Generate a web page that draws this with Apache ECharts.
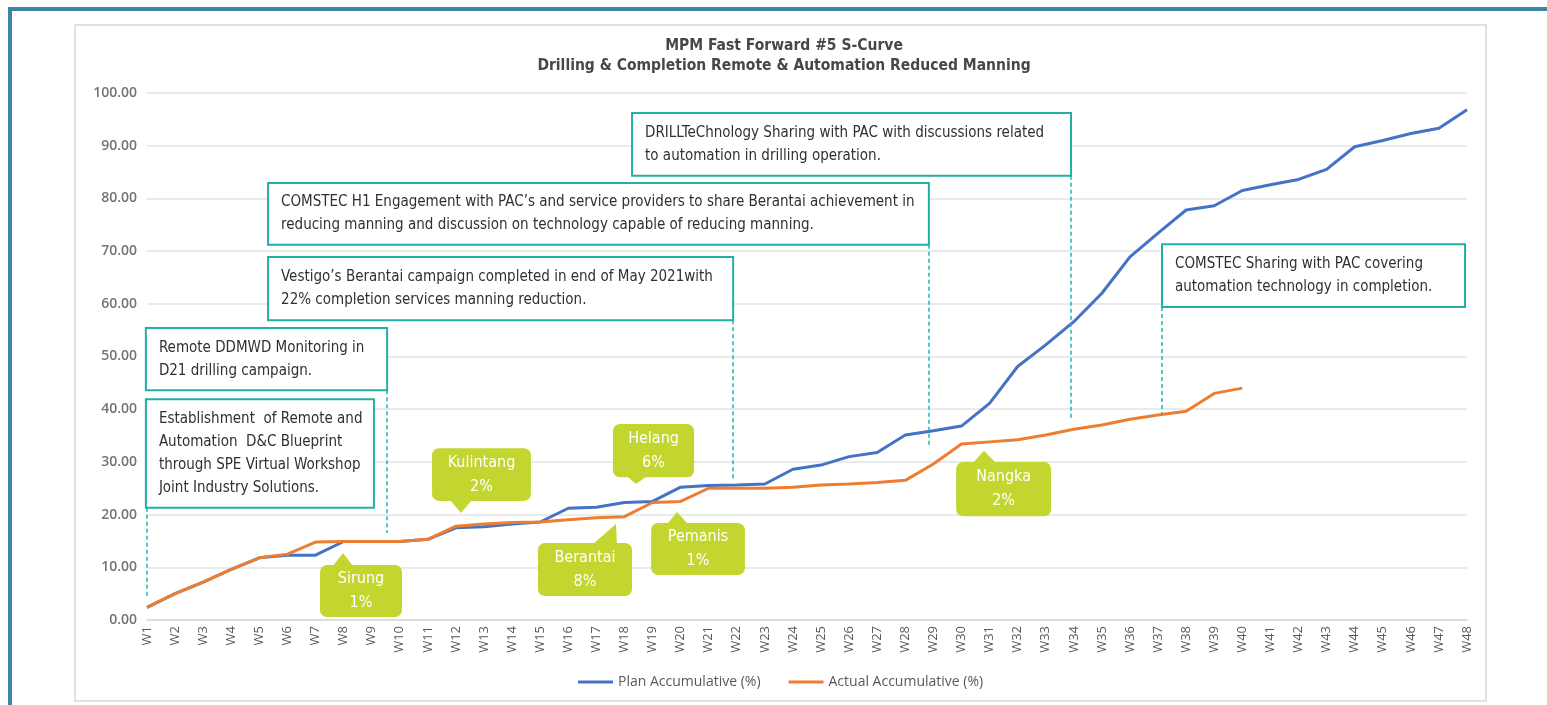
<!DOCTYPE html>
<html>
<head>
<meta charset="utf-8">
<script src="https://cdn.jsdelivr.net/npm/echarts@6/dist/echarts.min.js"></script>
<style>
html,body{margin:0;padding:0;background:#ffffff;}
#chart{width:1547px;height:705px;}
</style>
</head>
<body>
<div id="chart"></div>
<script>
// ---------------- DATA ----------------
const weeks = ['W1','W2','W3','W4','W5','W6','W7','W8','W9','W10','W11','W12','W13','W14','W15','W16',
  'W17','W18','W19','W20','W21','W22','W23','W24','W25','W26','W27','W28','W29','W30','W31','W32',
  'W33','W34','W35','W36','W37','W38','W39','W40','W41','W42','W43','W44','W45','W46','W47','W48'];
const planAccumulative = [2.4,5.0,7.2,9.6,11.8,12.3,12.3,14.9,14.9,14.9,15.3,17.5,17.7,18.2,18.6,21.2,
  21.4,22.3,22.5,25.2,25.5,25.6,25.8,28.6,29.4,31.0,31.8,35.1,35.9,36.8,41.1,48.1,
  52.2,56.6,62.0,68.9,73.4,77.8,78.6,81.5,82.6,83.6,85.5,89.8,91.0,92.3,93.3,96.8];
const actualAccumulative = [2.4,5.0,7.2,9.6,11.8,12.5,14.8,14.9,14.9,14.9,15.3,17.8,18.2,18.5,18.6,19.0,
  19.4,19.6,22.3,22.5,25.0,25.0,25.0,25.2,25.6,25.8,26.1,26.5,29.6,33.4,33.8,34.2,
  35.1,36.2,37.0,38.1,38.9,39.6,43.0,44.0,null,null,null,null,null,null,null,null];
const seriesNames = ['Plan Accumulative (%)','Actual Accumulative (%)'];
const titleLines = ['MPM Fast Forward #5 S-Curve','Drilling & Completion Remote & Automation Reduced Manning'];

const noteTexts = [
  'Remote DDMWD Monitoring in\nD21 drilling campaign.',
  'Establishment  of Remote and\nAutomation  D&C Blueprint\nthrough SPE Virtual Workshop\nJoint Industry Solutions.',
  'Vestigo\u2019s Berantai campaign completed in end of May 2021with\n22% completion services manning reduction.',
  'COMSTEC H1 Engagement with PAC\u2019s and service providers to share Berantai achievement in\nreducing manning and discussion on technology capable of reducing manning.',
  'DRILLTeChnology Sharing with PAC with discussions related\nto automation in drilling operation.',
  'COMSTEC Sharing with PAC covering\nautomation technology in completion.'
];
const calloutNames = ['Sirung','Kulintang','Helang','Berantai','Pemanis','Nangka'];
const calloutShares = ['1%','2%','6%','8%','1%','2%'];

// ---------------- LAYOUT (axis units: week index, percent) ----------------
const noteLayout = [
  {x0:-0.04, x1:8.55, yTop:55.4, yBot:43.6, leadX:8.55, leadTo:16.5},
  {x0:-0.04, x1:8.08, yTop:41.9, yBot:21.3, leadX:0.0, leadTo:4.6},
  {x0:4.31, x1:20.87, yTop:68.9, yBot:56.9, leadX:20.87, leadTo:26.9},
  {x0:4.31, x1:27.84, yTop:82.9, yBot:71.2, leadX:27.84, leadTo:33.2},
  {x0:17.27, x1:32.90, yTop:96.2, yBot:84.3, leadX:32.90, leadTo:38.3},
  {x0:36.14, x1:46.93, yTop:71.3, yBot:59.4, leadX:36.14, leadTo:39.1}
];
const calloutLayout = [
  {x0:6.16, x1:9.08, yTop:10.44, yBot:0.57, tip:[6.98,12.7], base:[6.62,7.33]},
  {x0:10.15, x1:13.67, yTop:32.6, yBot:22.6, tip:[11.18,20.3], base:[10.79,11.57]},
  {x0:16.59, x1:19.48, yTop:37.2, yBot:27.1, tip:[17.41,25.8], base:[17.09,17.80]},
  {x0:13.92, x1:17.27, yTop:14.6, yBot:4.55, tip:[16.70,18.2], base:[15.88,16.73]},
  {x0:17.95, x1:21.29, yTop:18.4, yBot:8.54, tip:[18.87,20.5], base:[18.52,19.26]},
  {x0:28.81, x1:32.19, yTop:30.0, yBot:19.7, tip:[29.80,32.1], base:[29.41,30.23]}
];

const FONT_NOTE = '"Liberation Sans Narrow","DejaVu Sans Condensed","Liberation Sans",sans-serif';
const FONT_UI = '"Open Sans","Liberation Sans",sans-serif';
const BLUE = '#4472c4', ORANGE = '#ed7d31', TEAL = '#22b0a6', GREEN = '#c3d630';

const chart = echarts.init(document.getElementById('chart'), null, {renderer:'canvas'});

chart.setOption({
  animation: false,
  backgroundColor: '#ffffff',
  title: {
    text: titleLines.join('\n'),
    left: 779,
    textAlign: 'center',
    top: 31,
    textStyle: {fontFamily: FONT_NOTE, fontSize: 15.5, fontWeight: 'bold', color: '#474747', lineHeight: 20}
  },
  legend: {
    bottom: 11,
    left: 573,
    itemGap: 28,
    itemWidth: 35,
    itemHeight: 3,
    icon: 'rect',
    textStyle: {fontFamily: FONT_UI, fontSize: 14, color: '#595959'},
    data: seriesNames
  },
  grid: {left: 147, right: 80, top: 93, bottom: 85, containLabel: false, outerBoundsMode: 'none'},
  xAxis: {
    type: 'category',
    data: weeks,
    boundaryGap: false,
    axisLine: {lineStyle: {color: '#d9d9d9', width: 1.5}},
    axisTick: {show: false},
    axisLabel: {rotate: 90, interval: 0, fontFamily: FONT_UI, fontSize: 13, color: '#595959', margin: 6},
    splitLine: {show: false}
  },
  yAxis: {
    type: 'value',
    min: 0, max: 100, interval: 10,
    axisLine: {show: false},
    axisTick: {show: false},
    axisLabel: {formatter: v => v.toFixed(2), fontFamily: FONT_UI, fontSize: 14, fontWeight: 600, color: '#737373', margin: 10},
    splitLine: {lineStyle: {color: '#e3e3e3', width: 1.5}}
  },
  series: [
    {name: seriesNames[0], type: 'line', data: planAccumulative, symbol: 'none', color: BLUE,
     lineStyle: {width: 3, color: BLUE}, z: 3},
    {name: seriesNames[1], type: 'line', data: actualAccumulative, symbol: 'none', color: ORANGE,
     lineStyle: {width: 3, color: ORANGE}, z: 4}
  ]
});

function px(xi, v) {
  const a = chart.convertToPixel({xAxisIndex: 0}, 0);
  const b = chart.convertToPixel({xAxisIndex: 0}, 1);
  const y = chart.convertToPixel({yAxisIndex: 0}, v);
  return [a + xi * (b - a), y];
}

const g = [];
// page frame
g.push({type:'rect', shape:{x:8, y:7, width:1547, height:4}, style:{fill:'#3a86a3'}, silent:true, z:200});
g.push({type:'rect', shape:{x:8, y:7, width:4, height:705}, style:{fill:'#3a86a3'}, silent:true, z:200});
g.push({type:'rect', shape:{x:75, y:25, width:1411, height:676}, style:{fill:'none', stroke:'#e2e2e2', lineWidth:2}, silent:true, z:-1});

// notes
noteLayout.forEach((n, i) => {
  const p0 = px(n.x0, n.yTop), p1 = px(n.x1, n.yBot);
  const lp0 = px(n.leadX, n.yBot), lp1 = px(n.leadX, n.leadTo);
  g.push({type:'line', shape:{x1:Math.round(lp0[0]), y1:lp0[1], x2:Math.round(lp0[0]), y2:lp1[1]},
    style:{stroke:'#1fb5ad', lineWidth:1.5, lineDash:[4,3]}, silent:true, z:90});
  g.push({type:'rect', shape:{x:p0[0], y:p0[1], width:p1[0]-p0[0], height:p1[1]-p0[1]},
    style:{fill:'#ffffff', stroke:TEAL, lineWidth:2}, silent:true, z:100});
  g.push({type:'text', x:p0[0]+13, y:(p0[1]+p1[1])/2, silent:true, z:101,
    style:{text:noteTexts[i], font:'15px ' + FONT_NOTE, fill:'#303030', lineHeight:23,
      align:'left', verticalAlign:'middle'}});
});

// callouts
calloutLayout.forEach((c, i) => {
  const p0 = px(c.x0, c.yTop), p1 = px(c.x1, c.yBot);
  const tip = px(c.tip[0], c.tip[1]);
  const up = c.tip[1] > c.yTop;
  const edgeY = up ? p0[1] + 1 : p1[1] - 1;
  const ba = px(c.base[0], 0)[0], bb = px(c.base[1], 0)[0];
  g.push({type:'polygon', shape:{points:[[ba, edgeY], tip, [bb, edgeY]]}, style:{fill:GREEN}, silent:true, z:110});
  g.push({type:'rect', shape:{x:p0[0], y:p0[1], width:p1[0]-p0[0], height:p1[1]-p0[1], r:7},
    style:{fill:GREEN}, silent:true, z:110});
  g.push({type:'text', x:(p0[0]+p1[0])/2, y:(p0[1]+p1[1])/2, silent:true, z:111,
    style:{text:calloutNames[i] + '\n' + calloutShares[i], font:'16px ' + FONT_NOTE, fill:'#ffffff',
      lineHeight:24, align:'center', verticalAlign:'middle'}});
});

chart.setOption({graphic: {elements: g}});
</script>
</body>
</html>
